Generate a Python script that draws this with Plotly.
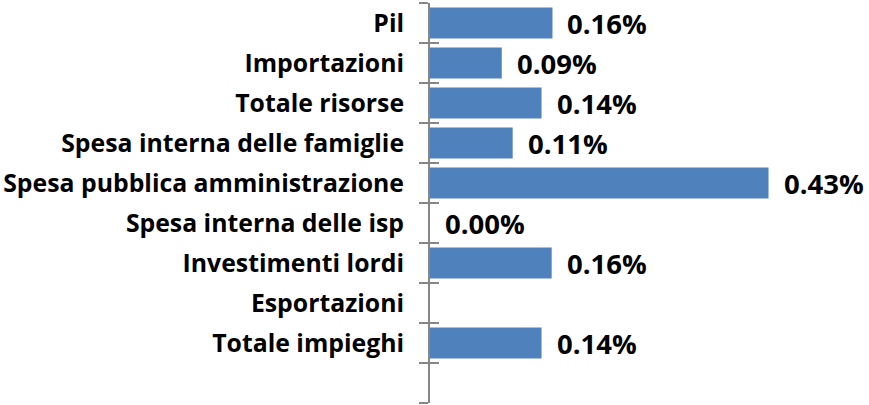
import plotly.graph_objects as go

categories = ["Pil", "Importazioni", "Totale risorse", "Spesa interna delle famiglie",
              "Spesa pubblica amministrazione", "Spesa interna delle isp",
              "Investimenti lordi", "Esportazioni", "Totale impieghi"]
values = [0.157, 0.092, 0.143, 0.106, 0.434, 0.0, 0.156, None, 0.143]
value_labels = ["0.16%", "0.09%", "0.14%", "0.11%", "0.43%", "0.00%", "0.16%", "", "0.14%"]

n_slots = len(categories) + 1  # extra empty slot at the bottom
pos = list(range(len(categories)))

BAR = "#4F81BD"
AXIS = "#868686"
FONT = "Open Sans"

fig = go.Figure()
fig.add_trace(go.Bar(
    x=[v if v is not None else 0 for v in values], y=pos, orientation="h",
    width=0.78, marker=dict(color=BAR, line=dict(width=0)),
    hoverinfo="skip",
))
# invisible trace to anchor the second (tick) axis
fig.add_trace(go.Scatter(x=[0], y=[0], yaxis="y2", mode="markers",
                         marker=dict(opacity=0), hoverinfo="skip", showlegend=False))

for i, (v, t) in enumerate(zip(values, value_labels)):
    if v is None or not t:
        continue
    fig.add_annotation(x=v, y=i, text=t, showarrow=False, xanchor="left",
                       xshift=13, yshift=0,
                       font=dict(family=FONT, size=27.5, color="black", weight="bold"))

boundaries = [i - 0.5 for i in range(n_slots + 1)]

fig.update_layout(
    width=869, height=405,
    margin=dict(l=430, r=49, t=3, b=2, autoexpand=False),
    paper_bgcolor="white", plot_bgcolor="white",
    showlegend=False,
    xaxis=dict(range=[0, 0.5], visible=False, fixedrange=True, automargin=False),
    yaxis=dict(
        range=[n_slots - 0.5, -0.5], tickmode="array", tickvals=list(range(n_slots)),
        ticktext=categories + [""], ticks="", showgrid=False, zeroline=False,
        showline=True, linecolor=AXIS, linewidth=2, automargin=False,
        tickfont=dict(family=FONT, size=24.8, color="black", weight="bold"),
        ticklabelstandoff=19,
        minor=dict(tickmode="array", tickvals=boundaries, ticks="outside",
                   ticklen=9, tickwidth=2, tickcolor=AXIS, showgrid=False),
    ),
    yaxis2=dict(
        overlaying="y", side="left", range=[n_slots - 0.5, -0.5], automargin=False,
        tickmode="array", tickvals=boundaries, ticks="inside", ticklen=9,
        tickwidth=2, tickcolor=AXIS, showticklabels=False, showgrid=False,
        zeroline=False, showline=False,
    ),
)

fig.write_html("out.html", config={"displayModeBar": False},
               post_script="document.body.style.margin='0';")
